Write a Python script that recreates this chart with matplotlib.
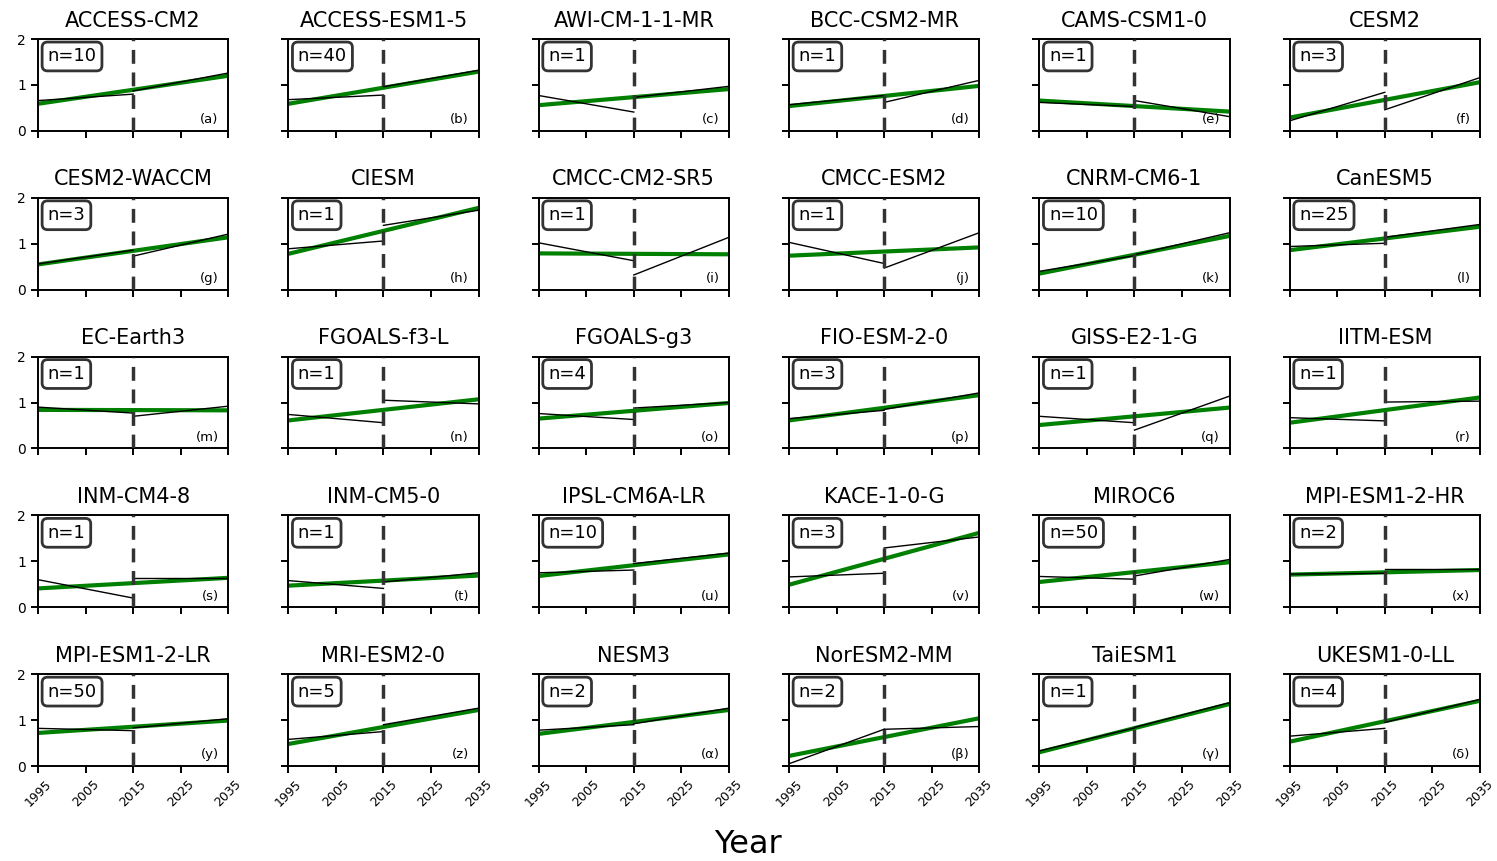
"""
Trend panels per model: piecewise black segments vs. green full-period fit
"""
import matplotlib.pyplot as plt

models = ["ACCESS-CM2", "ACCESS-ESM1-5", "AWI-CM-1-1-MR", "BCC-CSM2-MR", "CAMS-CSM1-0", "CESM2",
          "CESM2-WACCM", "CIESM", "CMCC-CM2-SR5", "CMCC-ESM2", "CNRM-CM6-1", "CanESM5",
          "EC-Earth3", "FGOALS-f3-L", "FGOALS-g3", "FIO-ESM-2-0", "GISS-E2-1-G", "IITM-ESM",
          "INM-CM4-8", "INM-CM5-0", "IPSL-CM6A-LR", "KACE-1-0-G", "MIROC6", "MPI-ESM1-2-HR",
          "MPI-ESM1-2-LR", "MRI-ESM2-0", "NESM3", "NorESM2-MM", "TaiESM1", "UKESM1-0-LL"]

n_members = [10, 40, 1, 1, 1, 3,
             3, 1, 1, 1, 10, 25,
             1, 1, 4, 3, 1, 1,
             1, 1, 10, 3, 50, 2,
             50, 5, 2, 2, 1, 4]

letters = list("abcdefghijklmnopqrstuvwxyz") + ["α", "β", "γ", "δ"]

# first segment (1995 -> 2015)
seg1_start = [0.66, 0.68, 0.77, 0.57, 0.62, 0.22,
              0.56, 0.89, 1.02, 1.03, 0.40, 0.94,
              0.90, 0.74, 0.76, 0.65, 0.70, 0.67,
              0.60, 0.58, 0.75, 0.66, 0.67, 0.72,
              0.82, 0.58, 0.78, 0.05, 0.33, 0.65]
seg1_end = [0.80, 0.78, 0.41, 0.77, 0.53, 0.84,
            0.86, 1.06, 0.63, 0.57, 0.74, 1.01,
            0.77, 0.56, 0.63, 0.83, 0.56, 0.60,
            0.20, 0.41, 0.81, 0.74, 0.61, 0.74,
            0.77, 0.75, 0.90, 0.80, 0.83, 0.82]

# second segment (2015 -> 2035)
seg2_start = [0.87, 0.96, 0.73, 0.62, 0.66, 0.46,
              0.73, 1.40, 0.32, 0.47, 0.76, 1.14,
              0.70, 1.05, 0.88, 0.85, 0.40, 1.01,
              0.63, 0.55, 0.95, 1.29, 0.68, 0.84,
              0.83, 0.90, 0.92, 0.80, 0.84, 0.95]
seg2_end = [1.26, 1.32, 0.97, 1.10, 0.31, 1.16,
            1.21, 1.73, 1.14, 1.24, 1.24, 1.42,
            0.92, 0.97, 1.00, 1.21, 1.14, 1.03,
            0.63, 0.75, 1.18, 1.53, 1.04, 0.84,
            1.03, 1.26, 1.26, 0.86, 1.38, 1.45]

# green fit (1995 -> 2035)
fit_start = [0.59, 0.59, 0.56, 0.54, 0.66, 0.29,
             0.55, 0.78, 0.79, 0.74, 0.35, 0.86,
             0.84, 0.61, 0.65, 0.61, 0.51, 0.56,
             0.41, 0.47, 0.68, 0.49, 0.55, 0.71,
             0.72, 0.48, 0.70, 0.22, 0.30, 0.53]
fit_end = [1.20, 1.29, 0.91, 0.98, 0.42, 1.06,
           1.14, 1.78, 0.77, 0.92, 1.17, 1.37,
           0.83, 1.07, 0.99, 1.16, 0.89, 1.11,
           0.64, 0.69, 1.15, 1.62, 0.98, 0.81,
           0.99, 1.22, 1.22, 1.04, 1.35, 1.42]

years = [1995, 2005, 2015, 2025, 2035]

fig, axes = plt.subplots(5, 6, figsize=(14.97, 8.61), dpi=100)
plt.subplots_adjust(left=0.0254, right=0.9886, top=0.9547, bottom=0.1103,
                    wspace=0.316, hspace=0.728)

for i, ax in enumerate(axes.flat):
    ax.plot([1995, 2035], [fit_start[i], fit_end[i]], color="green", lw=3, zorder=2)
    ax.plot([1995, 2015], [seg1_start[i], seg1_end[i]], color="black", lw=1, zorder=3)
    ax.plot([2015, 2035], [seg2_start[i], seg2_end[i]], color="black", lw=1, zorder=3)
    ax.axvline(2015, color="#333333", lw=2.5, ls=(0, (4, 2.5)), zorder=4)

    ax.set_xlim(1995, 2035)
    ax.set_ylim(0, 2)
    ax.set_xticks(years)
    ax.set_yticks([0, 1, 2])
    ax.set_title(models[i], fontsize=15, pad=9)
    for s in ax.spines.values():
        s.set_linewidth(1.4)
    ax.tick_params(width=1.4, length=5, labelsize=10)

    if i % 6 != 0:
        ax.set_yticklabels([])
    if i < 24:
        ax.set_xticklabels([])
    else:
        ax.set_xticklabels([str(y) for y in years], rotation=45, fontsize=9)

    ax.text(0.05, 0.81, "n=%d" % n_members[i], transform=ax.transAxes, fontsize=13,
            ha="left", va="center",
            bbox=dict(boxstyle="round,pad=0.3", fc="white", ec="#333333", lw=2))
    ax.text(0.95, 0.05, "(%s)" % letters[i], transform=ax.transAxes, fontsize=9.5,
            ha="right", va="bottom")

fig.text(0.5, 0.019, "Year", ha="center", va="center", fontsize=23)
plt.savefig("out.png")
